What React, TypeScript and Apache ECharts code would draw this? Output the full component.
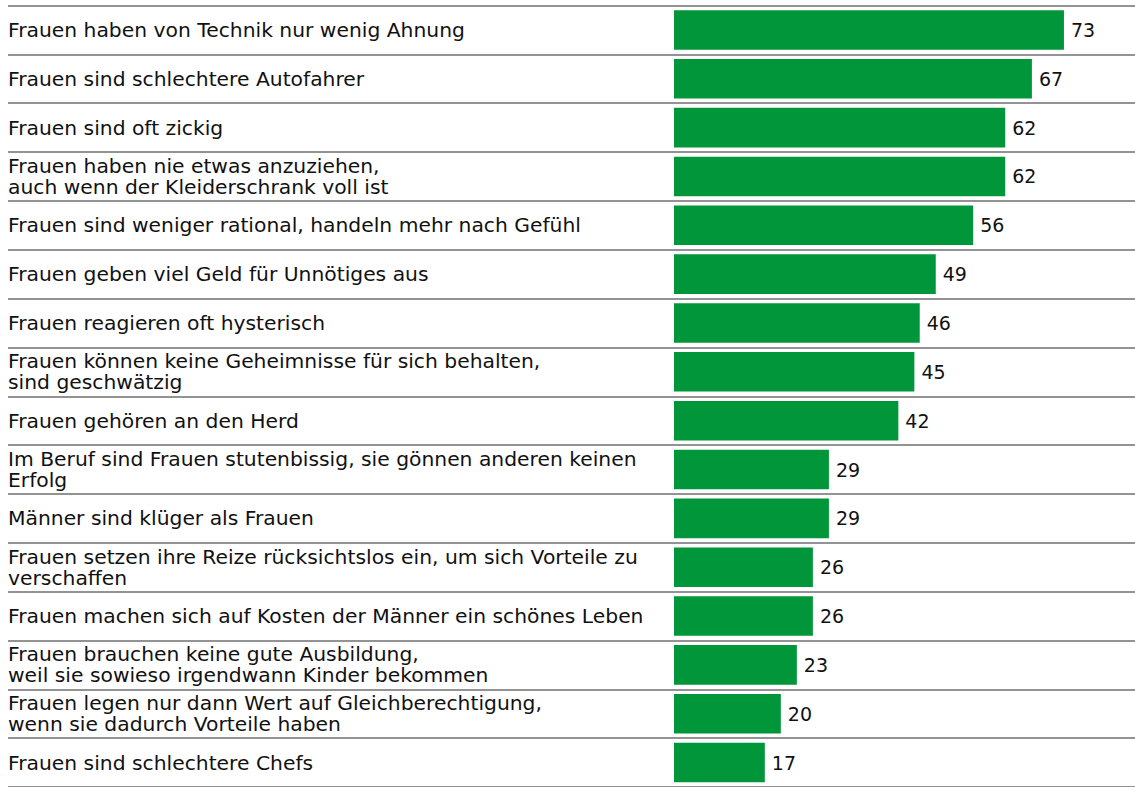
import React, { useEffect, useRef } from "react";
import * as echarts from "echarts";

// Statements, top to bottom
const categories: string[] = [
  "Frauen haben von Technik nur wenig Ahnung",
  "Frauen sind schlechtere Autofahrer",
  "Frauen sind oft zickig",
  "Frauen haben nie etwas anzuziehen,\nauch wenn der Kleiderschrank voll ist",
  "Frauen sind weniger rational, handeln mehr nach Gefühl",
  "Frauen geben viel Geld für Unnötiges aus",
  "Frauen reagieren oft hysterisch",
  "Frauen können keine Geheimnisse für sich behalten,\nsind geschwätzig",
  "Frauen gehören an den Herd",
  "Im Beruf sind Frauen stutenbissig, sie gönnen anderen keinen\nErfolg",
  "Männer sind klüger als Frauen",
  "Frauen setzen ihre Reize rücksichtslos ein, um sich Vorteile zu\nverschaffen",
  "Frauen machen sich auf Kosten der Männer ein schönes Leben",
  "Frauen brauchen keine gute Ausbildung,\nweil sie sowieso irgendwann Kinder bekommen",
  "Frauen legen nur dann Wert auf Gleichberechtigung,\nwenn sie dadurch Vorteile haben",
  "Frauen sind schlechtere Chefs",
];

// Agreement in percent
const values: number[] = [73, 67, 62, 62, 56, 49, 46, 45, 42, 29, 29, 26, 26, 23, 20, 17];

const FONT = "'DejaVu Sans', sans-serif";
const GREEN = "#009639";

export default function App() {
  const ref = useRef<HTMLDivElement>(null);

  useEffect(() => {
    document.body.style.margin = "0";
    const chart = echarts.init(ref.current!, undefined, { renderer: "svg" });
    const top = 5.5;
    const height = 786.7;
    chart.setOption({
      animation: false,
      grid: [
        { left: 8, right: 0, top, height },
        { left: 674, width: 459.4, top, height },
      ],
      xAxis: [
        { type: "value", gridIndex: 0, min: 0, max: 1, show: false },
        { type: "value", gridIndex: 1, min: 0, max: 86, show: false },
      ],
      yAxis: [
        {
          type: "category",
          gridIndex: 0,
          data: categories,
          inverse: true,
          axisLine: { show: false },
          axisTick: { show: false },
          axisLabel: {
            inside: true,
            margin: 0,
            align: "left",
            fontFamily: FONT,
            fontSize: 20.3,
            lineHeight: 21,
            color: "#111",
          },
          splitLine: { show: true, lineStyle: { color: "#6f6f6f", width: 1.6 } },
        },
        {
          type: "category",
          gridIndex: 1,
          data: categories,
          inverse: true,
          show: false,
        },
      ],
      series: [
        {
          type: "bar",
          xAxisIndex: 1,
          yAxisIndex: 1,
          data: values,
          barCategoryGap: "19%",
          itemStyle: { color: GREEN },
          label: {
            show: true,
            position: "right",
            distance: 7,
            fontFamily: FONT,
            fontSize: 19,
            color: "#111",
          },
        },
      ],
    });
    return () => chart.dispose();
  }, []);

  return <div ref={ref} style={{ width: 1135, height: 787 }} />;
}
